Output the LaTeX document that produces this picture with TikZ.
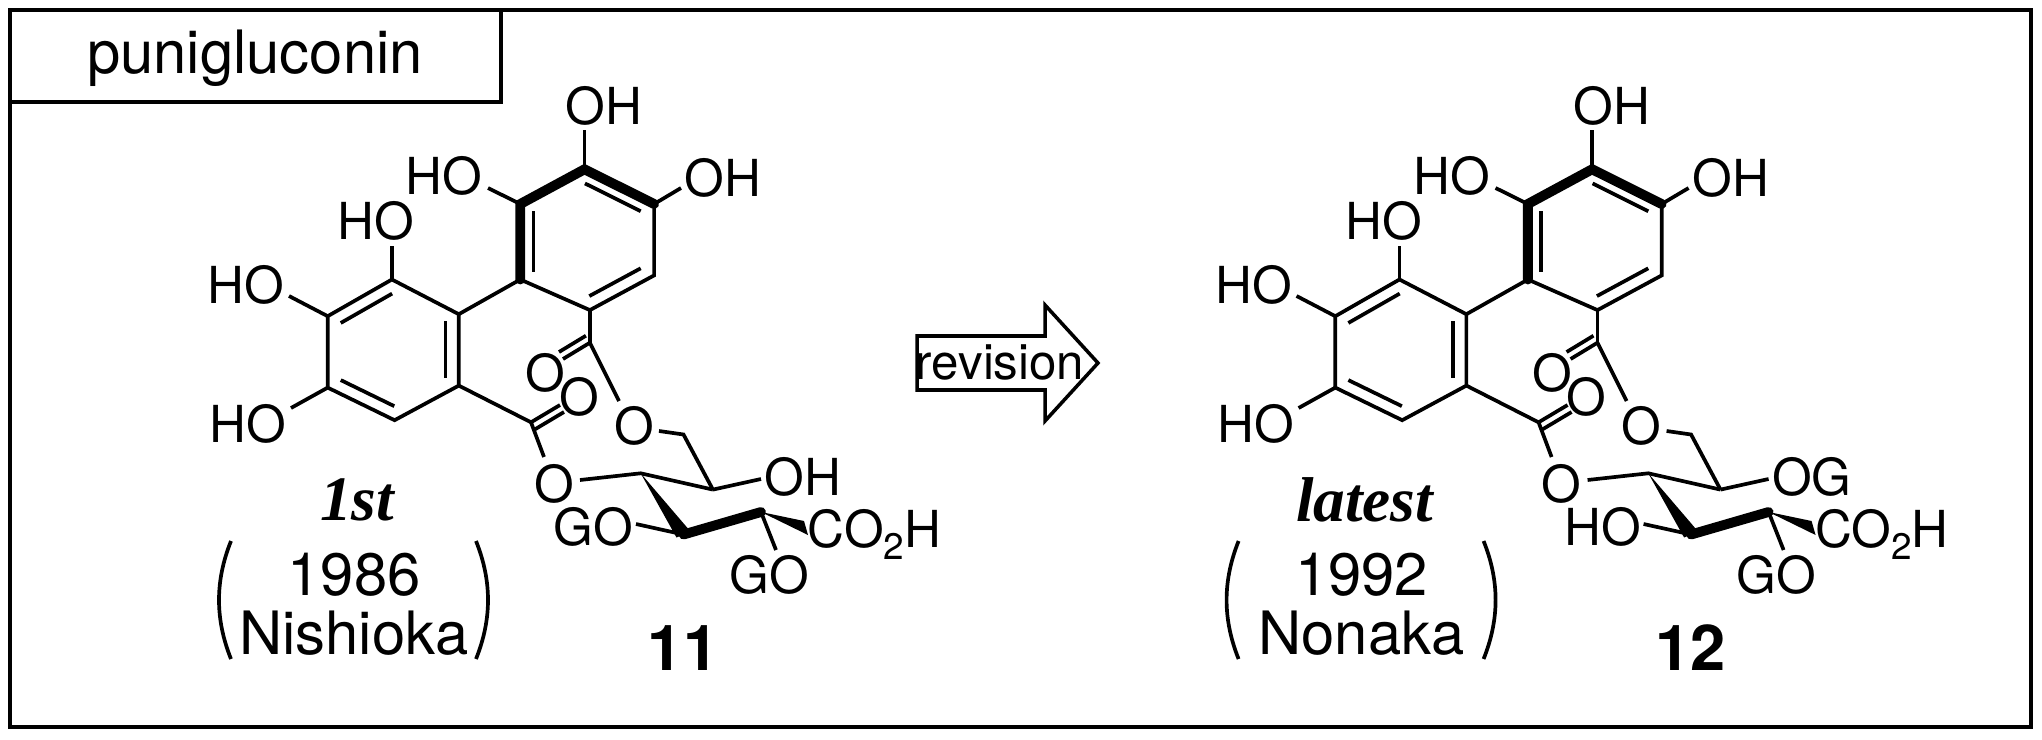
\documentclass[tikz,border=0pt]{standalone}
\usepackage{fontspec}
\setmainfont{TeX Gyre Heros}
\newfontfamily\serifit{Liberation Serif}
\usetikzlibrary{calc}
\tikzset{
  bond/.style={line width=1.05pt},
  thickbond/.style={line width=2.8pt,line cap=round},
  atom/.style={inner sep=0pt,font=\fontsize{14.5}{14.5}\selectfont},
  big/.style={inner sep=0pt,font=\fontsize{17}{17}\selectfont},
}
\newcommand\dbin[3]{\draw[bond] ($(#1)!0.2!(#3)$) -- ($(#2)!0.2!(#3)$);}
\newcommand\molecule[6]{%
  \coordinate (U1) at (584.5,169.3); \coordinate (U2) at (654.1,204);
  \coordinate (U3) at (654.1,275.4); \coordinate (U4) at (589.9,310.1);
  \coordinate (U5) at (520.3,279.5); \coordinate (U6) at (520.3,204);
  \coordinate (Uc) at (587,240);
  \coordinate (L1) at (391.9,279.5); \coordinate (L2) at (458.8,314.2);
  \coordinate (L3) at (458.8,385.6); \coordinate (L4) at (394.6,420.2);
  \coordinate (L5) at (327.7,387.6); \coordinate (L6) at (327.7,316.2);
  \coordinate (Lc) at (393,350);
  % upper ring
  \draw[bond] (U2)--(U3)--(U4)--(U5);
  \draw[thickbond] (U5)--(U6)--(U1)--(U2);
  \dbin{U1}{U2}{Uc}\dbin{U6}{U5}{Uc}\dbin{U3}{U4}{Uc}
  % lower ring
  \draw[bond] (L1)--(L2)--(L3)--(L4)--(L5)--(L6)--cycle;
  \dbin{L1}{L6}{Lc}\dbin{L2}{L3}{Lc}\dbin{L5}{L4}{Lc}
  \draw[bond] (L2)--(U5);
  % phenolic OH
  \draw[bond] (U1)--(584.5,130); \node[atom] (o1) at (604,106) {OH};
  \draw[bond] (U6)--(488,188); \node[atom] (o2) at (444,176) {HO};
  \draw[bond] (U2)--(681,188); \node[atom] (o3) at (723,178) {OH};
  \draw[bond] (L1)--(391.9,246); \node[atom] (o4) at (376,221) {HO};
  \draw[bond] (L6)--(289,296); \node[atom] (o5) at (246,285) {HO};
  \draw[bond] (L5)--(291,408); \node[atom] (o6) at (248,424) {HO};
  % ester 1
  \coordinate (C1) at (589.9,342.7);
  \draw[bond] (U4)--(C1);
  \draw[bond] (C1)--(563,359); \draw[bond] ($(C1)+(-4,-7)$)--($(563,359)+(-4,-7)$);
  \node[atom] (oc1) at (545,373) {O};
  \draw[bond] (C1)--(619,401);
  \node[atom] (oe1) at (634,426) {O};
  \coordinate (CH) at (683.5,434.5); \coordinate (C5) at (712.9,489.6);
  \draw[bond] (659,431)--(CH)--(C5);
  % ester 2
  \coordinate (C2) at (531,422.3);
  \draw[bond] (L3)--(C2);
  \draw[bond] (C2)--(560,405); \draw[bond] ($(C2)+(4,7)$)--($(560,405)+(4,7)$);
  \node[atom] (oc2) at (579,397) {O};
  \draw[bond] (C2)--(544,457);
  \node[atom] (oe2) at (554,484) {O};
  % sugar
  \coordinate (C4) at (640.7,473.3); \coordinate (C3) at (683.5,534.5);
  \coordinate (C2s) at (761,512);
  \draw[bond] (580,480)--(C4)--(C5);
  \draw[bond] (C5)--(761,479); \node[atom,anchor=west] (o7) at (764,477) {#1};
  \fill (C4) -- ($(C3)+(-7,3)$) -- ($(C3)+(7,-3)$) -- cycle;
  \draw[bond] (636,524)--(C3); \node[atom,anchor=east] (o8) at (634,527) {#2};
  \draw[thickbond] (C3)--(C2s);
  \fill (C2s) -- ($(806,528)+(-2,-7)$) -- ($(806,528)+(2,7)$) -- cycle;
  \node[atom,anchor=west] (co) at (807,534) {CO\raisebox{-0.45ex}{\fontsize{10.5}{10.5}\selectfont 2}H};
  \draw[bond] (C2s)--(776,550); \node[atom] (o9) at (769,575) {GO};
  % captions
  \node[inner sep=0pt,font=\serifit\bfseries\itshape\fontsize{18}{18}\selectfont] (lab) at (357,500) {#3};
  \node[big] (yr) at (354,575) {#4};
  \node[big] (au) at (354,633) {#5};
  \draw[bond] (#6,541) .. controls ($(#6,541)+(-16,40)$) and ($(#6,659)+(-16,-40)$) .. (#6,659);
}
\begin{document}
\begin{tikzpicture}[x=0.01cm,y=-0.01cm]
\useasboundingbox (0,0) rectangle (2042,739);
\draw[line width=1pt] (10,10) rectangle (2031,727);
\draw[line width=1pt] (10,10) rectangle (501,102);
\node[inner sep=0pt,font=\fontsize{17}{17}\selectfont] (title) at (255,58) {punigluconin};
\begin{scope}
\molecule{OH}{GO}{1st}{1986}{Nishioka}{231}
\draw[bond] (476,541) .. controls (492,581) and (492,619) .. (476,659);
\node[font=\bfseries\fontsize{18}{18}\selectfont,inner sep=0pt] (n11) at (683,648) {11};
\end{scope}
\begin{scope}[xshift=10.07cm]
\molecule{OG}{HO}{latest}{1992}{Nonaka}{231}
\draw[bond] (476,541) .. controls (492,581) and (492,619) .. (476,659);
\node[font=\bfseries\fontsize{18}{18}\selectfont,inner sep=0pt] (n12) at (683,648) {12};
\end{scope}
\draw[line width=1pt] (917,336) -- (1045,336) -- (1045,305) -- (1098,363) -- (1045,421) -- (1045,390) -- (917,390) -- cycle;
\node[inner sep=0pt,font=\fontsize{14}{14}\selectfont] (rev) at (1000,362) {revision};
\end{tikzpicture}
\end{document}
